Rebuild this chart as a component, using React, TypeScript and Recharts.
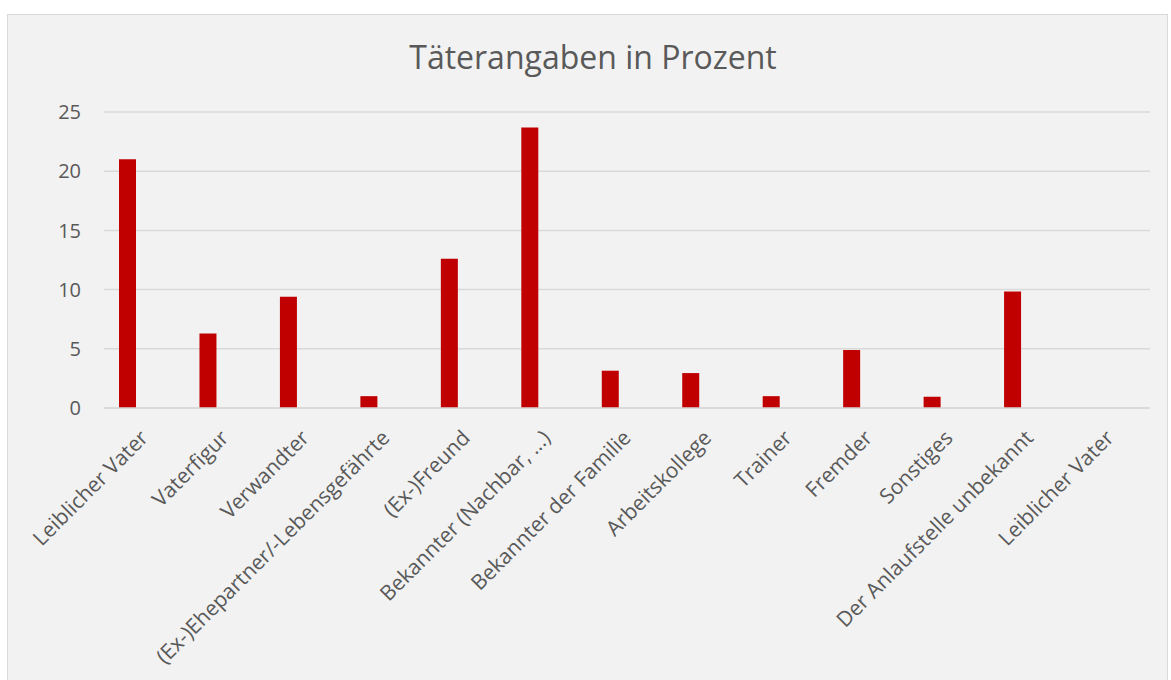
import React from 'react';
import { BarChart, Bar, XAxis, YAxis, CartesianGrid } from 'recharts';

const CATEGORIES = [
  'Leiblicher Vater',
  'Vaterfigur',
  'Verwandter',
  '(Ex-)Ehepartner/-Lebensgefährte',
  '(Ex-)Freund',
  'Bekannter (Nachbar, ...)',
  'Bekannter der Familie',
  'Arbeitskollege',
  'Trainer',
  'Fremder',
  'Sonstiges',
  'Der Anlaufstelle unbekannt',
  'Leiblicher Vater',
];

const PERCENT = [21.0, 6.3, 9.4, 1.0, 12.6, 23.7, 3.15, 2.95, 1.0, 4.9, 0.95, 9.85, null];

// two empty series in the original sheet - they push the visible bar left of the tick
const EMPTY_SERIES_B = [null, null, null, null, null, null, null, null, null, null, null, null, null];
const EMPTY_SERIES_C = [null, null, null, null, null, null, null, null, null, null, null, null, null];

const Y_TICKS = [0, 5, 10, 15, 20, 25];

const data = CATEGORIES.map((name, i) => ({
  name,
  value: PERCENT[i],
  b: EMPTY_SERIES_B[i],
  c: EMPTY_SERIES_C[i],
}));

const FONT = '"Open Sans", "Noto Sans", sans-serif';
const TEXT = '#595959';

const RotatedTick = (props: any) => {
  const { x, y, payload } = props;
  return (
    <text
      x={x}
      y={y}
      transform={`rotate(-45, ${x}, ${y})`}
      textAnchor="end"
      dy="0.35em"
      fill={TEXT}
      fontSize={21}
      fontFamily={FONT}
    >
      {payload.value}
    </text>
  );
};

export default function App() {
  return (
    <div style={{ position: 'absolute', left: 0, top: 0, width: 1171, height: 680, background: '#fff', overflow: 'hidden' }}>
      <div
        style={{
          position: 'absolute',
          left: 7,
          top: 14,
          width: 1161,
          height: 680,
          background: '#f2f2f2',
          border: '1px solid #d9d9d9',
          boxSizing: 'border-box',
        }}
      />
      <div
        style={{
          position: 'absolute',
          left: 7,
          top: 41,
          width: 1172,
          textAlign: 'center',
          fontFamily: FONT,
          fontSize: 32,
          color: TEXT,
          lineHeight: 1,
        }}
      >
        Täterangaben in Prozent
      </div>
      <div style={{ position: 'absolute', left: 7, top: 14 }}>
        <BarChart
          width={1161}
          height={666}
          data={data}
          margin={{ top: 98, right: 18, left: 37, bottom: 12 }}
          barGap={0}
        >
          <CartesianGrid vertical={false} stroke="#d9d9d9" strokeWidth={1.5} />
          <XAxis
            dataKey="name"
            interval={0}
            height={260}
            tick={<RotatedTick />}
            tickLine={false}
            tickMargin={20}
            axisLine={{ stroke: '#d9d9d9', strokeWidth: 1.5 }}
          />
          <YAxis
            domain={[0, 25]}
            ticks={Y_TICKS}
            width={60}
            tickLine={false}
            axisLine={false}
            tickMargin={17}
            tick={{ fill: TEXT, fontSize: 20, fontFamily: FONT }}
          />
          <Bar dataKey="value" fill="#c00000" barSize={17} isAnimationActive={false} />
          <Bar dataKey="b" fill="#ed7d31" barSize={17} isAnimationActive={false} />
          <Bar dataKey="c" fill="#a5a5a5" barSize={17} isAnimationActive={false} />
        </BarChart>
      </div>
    </div>
  );
}
